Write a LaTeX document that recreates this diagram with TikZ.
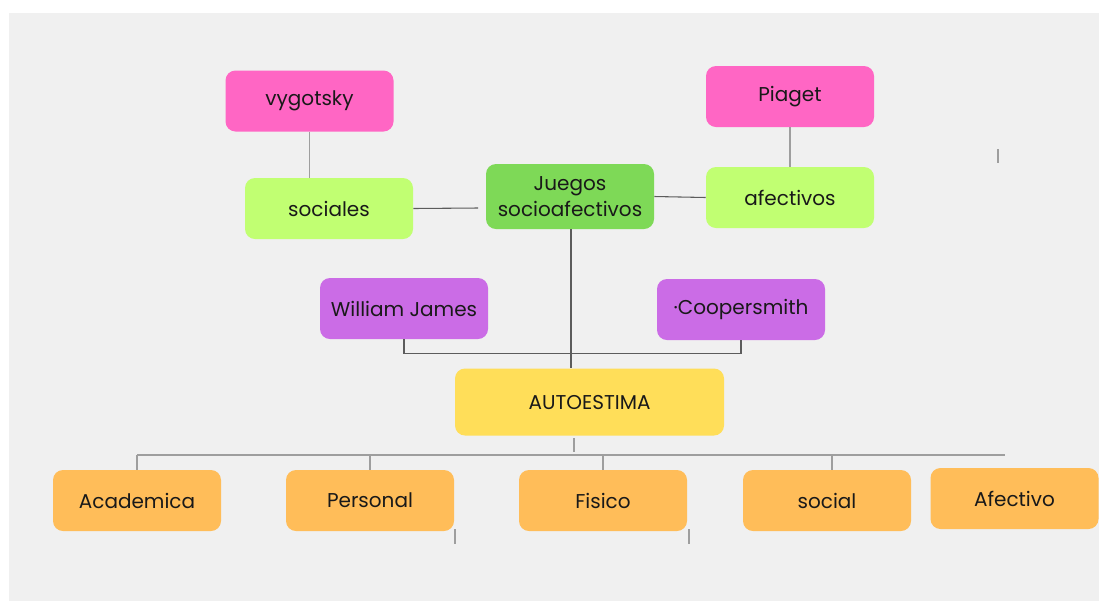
\documentclass[tikz,border=0pt]{standalone}
\usepackage{fontspec}
\setmainfont{Poppins}
\usepackage{xcolor}
\definecolor{bggray}{HTML}{F0F0F0}
\definecolor{pinkbox}{HTML}{FF66C4}
\definecolor{limebox}{HTML}{C1FF72}
\definecolor{greenbox}{HTML}{7ED957}
\definecolor{purplebox}{HTML}{CB6CE6}
\definecolor{yellowbox}{HTML}{FFDE59}
\definecolor{orangebox}{HTML}{FFBD59}
\definecolor{linegray}{HTML}{9E9E9E}
\definecolor{darkline}{HTML}{5C5C5C}

\begin{document}
\begin{tikzpicture}[x=0.75pt, y=-0.75pt,
    box/.style={rounded corners=7.5pt, minimum width=126pt, minimum height=45.75pt, align=center,
        font=\fontsize{15}{20}\selectfont, text=black!90, inner sep=2pt},
    link/.style={draw=linegray, line width=1.1pt},
    darklink/.style={draw=darkline, line width=0.8pt}]
    \useasboundingbox (0,0) rectangle (1099,601);
    \fill[white] (0,0) rectangle (1099,601);
    \fill[bggray] (9,13) rectangle (1099,601);

    % top row
    \node[box, fill=pinkbox] (vyg) at (309.5,101) {vygotsky};
    \node[box, fill=pinkbox] (pia) at (790,96.5) {Piaget};
    \node[box, fill=limebox] (soc) at (329,208.5) {sociales};
    \node[box, fill=greenbox, minimum height=48.75pt] (jue) at (570,196.5) {Juegos\\socioafectivos};
    \node[box, fill=limebox] (afe) at (790,197.5) {afectivos};

    % authors and centre
    \node[box, fill=purplebox] (wil) at (404,308.5) {William James};
    \node[box, fill=purplebox] (coo) at (741,309.5) {·Coopersmith};
    \node[box, fill=yellowbox, minimum width=201.75pt, minimum height=50.25pt] (aut) at (589.5,402) {AUTOESTIMA};

    % bottom row
    \node[box, fill=orangebox] (aca) at (137,500.5) {Academica};
    \node[box, fill=orangebox] (per) at (370,500.5) {Personal};
    \node[box, fill=orangebox] (fis) at (603,500.5) {Fisico};
    \node[box, fill=orangebox] (sol) at (827,500.5) {social};
    \node[box, fill=orangebox] (afc) at (1014.5,498.5) {Afectivo};

    % connectors
    \coordinate (juew) at (478,208);
    \coordinate (busl) at (137,455);
    \coordinate (busr) at (1005,455);
    \draw[link] (vyg.south) -- (soc.north -| vyg.south);
    \draw[link] (pia.south) -- (afe.north);
    \draw[darklink] (soc.east) -- (juew);
    \draw[darklink] (jue.east) -- (afe.west);
    \draw[darklink] (jue.south) ++(1,0) -- (aut.north -| 571,0);
    \draw[darklink] (wil.south) -- ++(0,14) -| (coo.south);
    \draw[link] (574,438) -- (574,452);
    \draw[link] (busl) -- (busr);
    \foreach \b in {aca,per,fis}
        \draw[link] (\b.north |- busl) -- (\b.north);
    \draw[link] (832,455) -- (832,470);

    % stray marks
    \draw[link] (998,149) -- (998,163);
    \draw[link] (455,529) -- (455,544);
    \draw[link] (689,529) -- (689,544);
\end{tikzpicture}
\end{document}
